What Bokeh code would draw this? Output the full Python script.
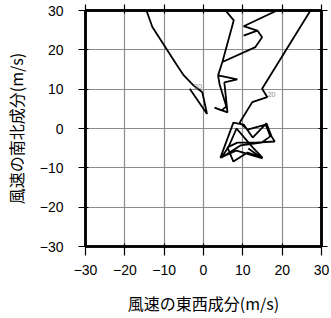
from bokeh.plotting import figure
from bokeh.models import LinearAxis, FixedTicker, Range1d
from bokeh.core.properties import value
from bokeh.embed import file_html
from bokeh.resources import INLINE

# axis ticks
ticks = [-30, -20, -10, 0, 10, 20, 30]
tick_labels = ["−30", "−20", "−10", "0", "10", "20", "30"]

# main hodograph path (u: east-west, v: north-south, m/s)
u_main = [11.4, 15.0, 8.4, 4.3, 7.6, 10.2, 12.5, 16.0, 17.3, 18.1, 13.2, 8.6, 6.1, 7.6,
          11.2, 15.0, 12.5, 8.4, 6.4, 4.6, 9.4, 14.7, 17.0, 15.8, 11.2, 9.2,
          9.8, 12.4, 16.2, 14.9, 27.2, 28.8, 24.2,
          18.7, 10.2, 13.7, 10.2, 13.7, 14.9, 13.2, 4.8,
          7.7, 5.6, 3.6, -15.4,
          -14.5, -13.0, -6.7, -5.0, -2.5, -0.3, 0.9, -3.5]
v_main = [-5.1, -7.6, -5.6, -7.4, 1.5, 1.0, -2.3, 1.3, -2.0, -3.3, -3.6, -3.6, -4.8, -8.4,
          -6.1, -7.4, -4.8, 0.0, -4.6, -7.4, -4.3, -3.6, -2.0, 1.0, -0.3, 1.5,
          2.5, 6.7, 8.0, 10.1, 30.0, 32.5, 32.5,
          30.0, 26.0, 24.9, 23.6, 24.9, 23.2, 20.7, 16.9,
          27.5, 30.0, 32.5, 32.5,
          30.0, 25.8, 16.0, 13.5, 10.9, 9.2, 3.7, 10.1]

# branch below the junction
u_branch = [4.8, 3.7, 8.6, 5.3, 6.1, 2.8, 4.6, 5.8, 4.1, 3.7]
v_branch = [16.9, 13.5, 12.5, 11.7, 4.1, 5.3, 4.6, 5.6, 11.2, 13.5]

# small labels along the path
label_u = [-1.4, 17.3]
label_v = [10.7, 8.7]
label_text = ["20", "20"]

tick_font = "Liberation Sans"
cjk_font = "Noto Sans CJK JP"

p = figure(width=331, height=318,
           x_range=Range1d(-30, 30), y_range=Range1d(-30, 30),
           output_backend="svg", toolbar_location=None,
           min_border_left=85, min_border_right=10,
           min_border_top=10, min_border_bottom=72,
           x_axis_label="風速の東西成分(m/s)",
           y_axis_label="風速の南北成分(m/s)")
p.background_fill_color = "white"
p.border_fill_color = "white"
p.outline_line_color = "black"
p.outline_line_width = 2.5

overrides = {t: l for t, l in zip(ticks, tick_labels)}

for ax in (p.xaxis[0], p.yaxis[0]):
    ax.ticker = FixedTicker(ticks=ticks)
    ax.major_label_overrides = overrides
    ax.major_label_text_font = tick_font
    ax.major_label_text_font_size = "14px"
    ax.major_label_text_color = "black"
    ax.axis_label_text_font = cjk_font
    ax.axis_label_text_font_size = "16px"
    ax.axis_label_text_font_style = "normal"
    ax.axis_label_text_color = "black"
    ax.minor_tick_line_color = None
    ax.major_tick_line_color = "black"
    ax.major_tick_line_width = 1.2
    ax.major_tick_in = 3
    ax.axis_line_color = "black"
    ax.axis_line_width = 2.5

p.xaxis[0].major_tick_out = 9
p.xaxis[0].major_label_standoff = 9
p.xaxis[0].axis_label_standoff = 13
p.yaxis[0].major_tick_out = 7
p.yaxis[0].major_label_standoff = 15
p.yaxis[0].axis_label_standoff = 9

for loc in ("above", "right"):
    ax = LinearAxis(ticker=FixedTicker(ticks=ticks),
                    major_label_text_font_size="0px",
                    major_label_standoff=0,
                    major_tick_out=6, major_tick_in=3,
                    major_tick_line_color="black", major_tick_line_width=1.2,
                    minor_tick_line_color=None,
                    axis_line_color="black", axis_line_width=2.5)
    ax.major_label_overrides = {t: "" for t in ticks}
    p.add_layout(ax, loc)

p.xgrid.ticker = FixedTicker(ticks=ticks)
p.ygrid.ticker = FixedTicker(ticks=ticks)
p.grid.grid_line_color = "#8c8c8c"
p.grid.grid_line_width = 1.2

p.line(u_main, v_main, line_color="black", line_width=1.8)
p.line(u_branch, v_branch, line_color="black", line_width=1.8)

p.text(x=label_u, y=label_v, text=label_text,
       text_font=value(tick_font), text_font_size=value("7px"),
       text_color="#8a8a8a", text_align="center", text_baseline="middle")

open("out.html", "w").write(file_html(p, INLINE))
